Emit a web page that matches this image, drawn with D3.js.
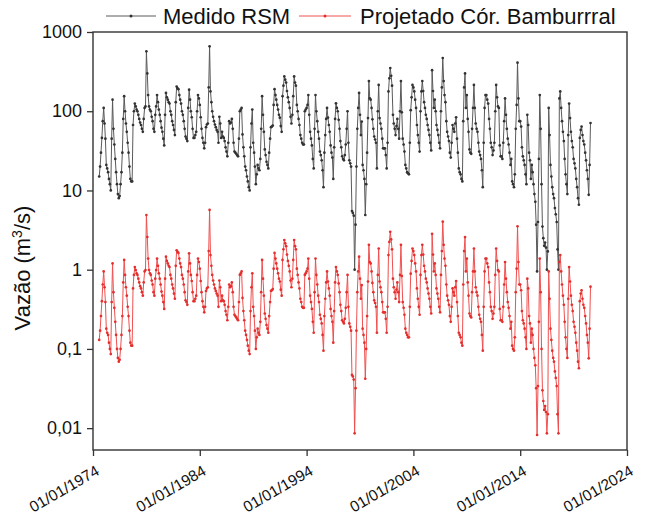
<!DOCTYPE html>
<html><head><meta charset="utf-8">
<script src="https://cdn.jsdelivr.net/npm/d3@7"></script>
<style>body{margin:0;background:#fff} svg{display:block} text{font-family:"Liberation Sans",Arial,sans-serif;fill:#111}</style>
</head><body><svg id="c" width="648" height="514"></svg>
<script>
// First month of the monthly series
const startMonth = "1974-08";
// Medido RSM (m3/s), monthly, Aug 1974 - Aug 2020
const medido = [
 15,20,30,46,75,
 110,70,45,21,19,17,14,12,10,45,140,60,
 38,25,17,12,9,8,8.5,12,17,30,80,155,
 100,70,55,40,30,20,14,13,13,67,100,125,
 115,105,100,90,80,72,67,60,55,80,110,115,
 570,300,160,115,105,100,85,75,60,55,90,115,
 160,130,105,90,75,62,55,45,37,90,170,150,
 140,130,125,100,90,75,67,58,50,130,205,195,
 190,160,140,125,100,90,75,60,48,45,42,110,
 187,140,100,84,60,46,46,50,55,100,160,145,
 120,84,60,46,40,34,40,63,68,70,200,660,
 178,130,100,85,75,68,63,58,55,40,85,70,
 46,55,48,46,42,35,31,27,40,75,70,72,
 80,60,40,31,30,29,28,27,45,100,105,110,
 51,35,27,20,18,15,13,11,10,35,70,105,
 40,30,20,12,16,21,19,18,25,60,155,90,
 55,33,28,23,21,19,30,45,63,64,66,120,
 190,160,140,120,105,90,83,65,55,155,210,275,
 250,230,180,150,130,110,85,70,90,155,275,230,
 210,120,100,80,67,50,45,40,38,38,100,105,
 110,120,160,90,55,45,37,25,19,60,160,100,
 75,55,45,31,28,24,18,11,30,50,80,110,
 83,67,55,37,30,26,14,35,80,126,110,100,
 78,60,42,35,27,25,24,28,38,60,100,40,
 24,22,20,5.5,5.2,4.8,1.0,3.7,20,60,110,170,
 90,50,74,21,18,14,4.9,12,30,82,240,145,
 140,110,79,60,48,44,40,19,100,215,82,70,
 60,45,34,34,34,28,19,40,178,260,350,280,
 210,90,70,60,50,65,80,60,45,100,240,97,
 45,38,31,21,19,17,16.5,16,40,103,150,215,
 200,178,140,110,67,50,40,31,100,178,240,180,
 130,110,90,80,67,58,50,40,32,330,180,110,
 140,100,67,58,50,40,34,100,200,470,240,160,
 130,75,55,48,42,30,26,40,67,60,55,70,
 84,45,30,19,17,16,14,13,75,200,300,110,
 160,80,55,33,30,29,60,110,215,110,70,60,
 55,40,31,28,25,18,11,40,110,160,160,140,
 125,80,60,40,35,28,32,40,100,215,150,115,
 110,37,27,27,25,40,75,145,90,60,45,38,
 30,21,25,13,12,11,16,60,120,410,145,75,
 75,64,35,27,24,21,16,12,90,67,30,24,
 14,21,17,12,9,7.2,3.7,0.95,4,25,160,60,
 12,3.5,2.5,2.0,2.2,1.9,1.0,1.7,110,50,21,15,
 11,9,8,6,5,4,1.8,1.0,145,178,110,75,
 55,42,25,16,12,9,50,125,82,55,42,35,
 25,22,19,14,11,8,6.6,46,58,64,50,42,
 38,30,24,18,14,8.8,21,71
];
// Projetado Cór. Bamburrral (m3/s), same months
const projetado = [
 0.13,0.17,0.26,0.40,0.65,
 0.95,0.60,0.39,0.18,0.16,0.15,0.12,0.10,0.086,0.39,1.20,0.52,
 0.33,0.22,0.15,0.10,0.077,0.069,0.073,0.10,0.15,0.26,0.69,1.33,
 0.86,0.60,0.47,0.34,0.26,0.17,0.12,0.11,0.11,0.58,0.86,1.08,
 0.99,0.90,0.86,0.77,0.69,0.62,0.58,0.52,0.47,0.69,0.95,0.99,
 4.90,2.58,1.38,0.99,0.90,0.86,0.73,0.65,0.52,0.47,0.77,0.99,
 1.38,1.12,0.90,0.77,0.65,0.53,0.47,0.39,0.32,0.77,1.46,1.29,
 1.20,1.12,1.08,0.86,0.77,0.65,0.58,0.50,0.43,1.12,1.76,1.68,
 1.63,1.38,1.20,1.08,0.86,0.77,0.65,0.52,0.41,0.39,0.36,0.95,
 1.61,1.20,0.86,0.72,0.52,0.40,0.40,0.43,0.47,0.86,1.38,1.25,
 1.03,0.72,0.52,0.40,0.34,0.29,0.34,0.54,0.58,0.60,1.72,5.68,
 1.53,1.12,0.86,0.73,0.65,0.58,0.54,0.50,0.47,0.34,0.73,0.60,
 0.40,0.47,0.41,0.40,0.36,0.30,0.27,0.23,0.34,0.65,0.60,0.62,
 0.69,0.52,0.34,0.27,0.26,0.25,0.24,0.23,0.39,0.86,0.90,0.95,
 0.44,0.30,0.23,0.17,0.15,0.13,0.11,0.095,0.086,0.30,0.60,0.90,
 0.34,0.26,0.17,0.10,0.14,0.18,0.16,0.15,0.22,0.52,1.33,0.77,
 0.47,0.28,0.24,0.20,0.18,0.16,0.26,0.39,0.54,0.55,0.57,1.03,
 1.63,1.38,1.20,1.03,0.90,0.77,0.71,0.56,0.47,1.33,1.81,2.37,
 2.15,1.98,1.55,1.29,1.12,0.95,0.73,0.60,0.77,1.33,2.37,1.98,
 1.81,1.03,0.86,0.69,0.58,0.43,0.39,0.34,0.33,0.33,0.86,0.90,
 0.95,1.03,1.38,0.77,0.47,0.39,0.32,0.22,0.16,0.52,1.38,0.86,
 0.65,0.47,0.39,0.27,0.24,0.21,0.15,0.095,0.26,0.43,0.69,0.95,
 0.71,0.58,0.47,0.32,0.26,0.22,0.12,0.30,0.69,1.08,0.95,0.86,
 0.67,0.52,0.36,0.30,0.23,0.22,0.21,0.24,0.33,0.52,0.86,0.34,
 0.21,0.19,0.17,0.047,0.045,0.041,0.0086,0.032,0.17,0.52,0.95,1.46,
 0.77,0.43,0.64,0.18,0.15,0.12,0.042,0.10,0.26,0.71,2.06,1.25,
 1.20,0.95,0.68,0.52,0.41,0.38,0.34,0.16,0.86,1.85,0.71,0.60,
 0.52,0.39,0.29,0.29,0.29,0.24,0.16,0.34,1.53,2.24,3.01,2.41,
 1.81,0.77,0.60,0.52,0.43,0.56,0.69,0.52,0.39,0.86,2.06,0.83,
 0.39,0.33,0.27,0.18,0.16,0.15,0.14,0.14,0.34,0.89,1.29,1.85,
 1.72,1.53,1.20,0.95,0.58,0.43,0.34,0.27,0.86,1.53,2.06,1.55,
 1.12,0.95,0.77,0.69,0.58,0.50,0.43,0.34,0.28,2.84,1.55,0.95,
 1.20,0.86,0.58,0.50,0.43,0.34,0.29,0.86,1.72,4.04,2.06,1.38,
 1.12,0.65,0.47,0.41,0.36,0.26,0.22,0.34,0.58,0.52,0.47,0.60,
 0.72,0.39,0.26,0.16,0.15,0.14,0.12,0.11,0.65,1.72,2.58,0.95,
 1.38,0.69,0.47,0.28,0.26,0.25,0.52,0.95,1.85,0.95,0.60,0.52,
 0.47,0.34,0.27,0.24,0.22,0.15,0.095,0.34,0.95,1.38,1.38,1.20,
 1.08,0.69,0.52,0.34,0.30,0.24,0.28,0.34,0.86,1.85,1.29,0.99,
 0.95,0.32,0.23,0.23,0.22,0.34,0.65,1.25,0.77,0.52,0.39,0.33,
 0.26,0.18,0.22,0.11,0.10,0.095,0.14,0.52,1.03,3.53,1.25,0.65,
 0.65,0.55,0.30,0.23,0.21,0.18,0.14,0.10,0.77,0.58,0.26,0.21,
 0.12,0.18,0.15,0.10,0.077,0.062,0.032,0.0082,0.034,0.22,1.38,0.52,
 0.10,0.030,0.022,0.017,0.019,0.016,0.0086,0.015,0.95,0.43,0.18,0.13,
 0.095,0.077,0.069,0.052,0.043,0.034,0.015,0.0086,1.25,1.53,0.95,0.65,
 0.47,0.36,0.22,0.14,0.10,0.077,0.43,1.08,0.71,0.47,0.36,0.30,
 0.22,0.19,0.16,0.12,0.095,0.069,0.057,0.40,0.50,0.55,0.43,0.36,
 0.33,0.26,0.21,0.15,0.12,0.076,0.18,0.61
];
const seriesNames = ["Medido RSM", "Projetado Cór. Bamburrral"];
const xTickLabels = ["01/01/1974","01/01/1984","01/01/1994","01/01/2004","01/01/2014","01/01/2024"];
const yTickValues = [0.01, 0.1, 1, 10, 100, 1000];
const yTickLabels = ["0,01", "0,1", "1", "10", "100", "1000"];

const svg = d3.select("#c");
const L = 93, R = 627, T = 32, B = 450;
const parseTick = d3.timeParse("%d/%m/%Y");
const xTicks = xTickLabels.map(parseTick);
const x = d3.scaleTime().domain([xTicks[0], xTicks[xTicks.length - 1]]).range([L, R]);
const y = d3.scaleLog().domain([0.0053, 1000]).range([B, T]);

const t0 = d3.timeParse("%Y-%m")(startMonth);
const mk = arr => arr.map((v, i) => ({date: d3.timeMonth.offset(t0, i), v}));
const series = [
  {name: seriesNames[0], data: mk(medido), line: "#5a5a5a", dot: "#333"},
  {name: seriesNames[1], data: mk(projetado), line: "#f05050", dot: "#e3302e"}
];

const line = d3.line().x(d => x(d.date)).y(d => y(d.v));
series.forEach(s => {
  const g = svg.append("g");
  g.append("path").datum(s.data).attr("d", line)
    .attr("fill", "none").attr("stroke", s.line).attr("stroke-width", 1);
  g.selectAll("circle").data(s.data).join("circle")
    .attr("cx", d => x(d.date)).attr("cy", d => y(d.v)).attr("r", 1.35)
    .attr("fill", s.dot);
});

// frame
svg.append("rect").attr("x", L).attr("y", T).attr("width", R - L).attr("height", B - T)
  .attr("fill", "none").attr("stroke", "#333").attr("stroke-width", 1.4);

// y axis
const yAx = svg.append("g").attr("transform", `translate(${L},0)`)
  .call(d3.axisLeft(y).tickValues(yTickValues).tickFormat((d, i) => yTickLabels[i]).tickSize(6).tickPadding(5));
yAx.select(".domain").remove();
yAx.selectAll("line").attr("stroke", "#333").attr("stroke-width", 1.3);
yAx.selectAll("text").attr("font-size", 18).attr("font-family", "Liberation Sans, Arial, sans-serif").attr("fill", "#111");

// x axis
const xAx = svg.append("g").attr("transform", `translate(0,${B})`)
  .call(d3.axisBottom(x).tickValues(xTicks).tickFormat((d, i) => xTickLabels[i]).tickSize(6));
xAx.select(".domain").remove();
xAx.selectAll("line").attr("stroke", "#333").attr("stroke-width", 1.3);
xAx.selectAll("text").attr("font-size", 15.5).attr("font-family", "Liberation Sans, Arial, sans-serif").attr("fill", "#111")
  .attr("x", 0).attr("y", 0).attr("dy", 0)
  .attr("text-anchor", "end").attr("transform", "translate(7,24) rotate(-30)");

// y title
const yt = svg.append("text").attr("transform", "translate(30,268) rotate(-90)")
  .attr("text-anchor", "middle").attr("font-size", 22);
yt.append("tspan").text("Vazão (m");
yt.append("tspan").text("3").attr("font-size", 14).attr("dy", -8);
yt.append("tspan").text("/s)").attr("dy", 8);

// legend
const leg = [{x1: 106, x2: 156, tx: 163}, {x1: 299, x2: 351, tx: 360}];
series.forEach((s, i) => {
  const l = leg[i];
  svg.append("line").attr("x1", l.x1).attr("x2", l.x2).attr("y1", 16).attr("y2", 16)
    .attr("stroke", s.line).attr("stroke-width", 1);
  svg.append("circle").attr("cx", (l.x1 + l.x2) / 2).attr("cy", 16).attr("r", 1.5).attr("fill", s.dot);
  svg.append("text").attr("x", l.tx).attr("y", 24).attr("font-size", 22).text(s.name);
});
</script></body></html>
